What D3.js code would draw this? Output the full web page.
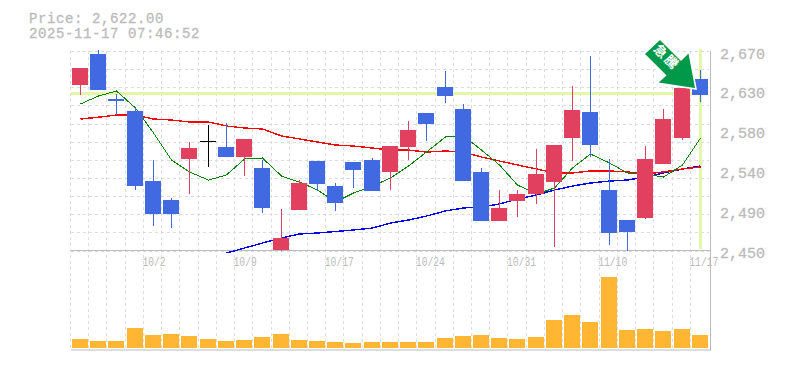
<!DOCTYPE html>
<html>
<head>
<meta charset="utf-8">
<script src="https://cdn.jsdelivr.net/npm/d3@7"></script>
<style>
    html, body { margin: 0; padding: 0; background: #fff; }
    text { font-family: "Liberation Mono", monospace; fill: #bbb; stroke: #bbb; stroke-width: 0.3px; }
    .grid line { stroke: #ddd; stroke-dasharray: 3 3; shape-rendering: crispEdges; }
    .mark { shape-rendering: crispEdges; }
    .y-axis path, .y-axis line { display: none; }
</style>
</head>
<body>
<div id="chart"></div>
<script>
// candle values
const dates = ["9/25","9/26","9/29","9/30","10/2","10/3","10/6","10/7","10/8","10/9","10/10","10/14","10/15","10/16","10/17","10/20","10/21","10/22","10/23","10/24","10/27","10/28","10/29","10/30","10/31","11/4","11/5","11/6","11/7","11/10","11/11","11/12","11/13","11/14","11/17"];
const opens  = [2632,2667,2617,2604,2527,2506,2551,2571,2564,2553,2541,2451,2495,2549,2521,2548,2550,2537,2564,2602,2630,2606,2537,2483,2505,2512,2526,2574,2603,2517,2484,2486,2545,2574,2639];
const highs  = [2651,2671,2623,2607,2550,2508,2570,2588,2591,2573,2550,2496,2528,2549,2524,2548,2552,2565,2593,2602,2648,2612,2541,2517,2517,2562,2566,2631,2664,2551,2484,2565,2606,2629,2649];
const lows   = [2622,2627,2599,2517,2477,2475,2512,2542,2553,2532,2491,2450,2495,2516,2494,2519,2516,2517,2550,2571,2613,2527,2482,2483,2487,2501,2454,2549,2553,2456,2449,2485,2545,2572,2614];
const closes = [2651,2627,2615,2521,2490,2490,2563,2571,2553,2573,2497,2464,2524,2523,2502,2539,2516,2565,2583,2590,2620,2527,2483,2497,2512,2534,2566,2605,2566,2469,2470,2551,2595,2629,2622];
const volumes = [90,70,70,200,130,140,120,90,70,80,110,140,80,70,60,50,60,60,60,60,100,120,130,100,90,110,280,330,260,710,180,190,170,190,130];

// moving averages
const maShort = [2611.6,2620.4,2625.9,2607.1,2579.6,2549.8,2536.6,2527.7,2533.3,2550.9,2552,2532.1,2525.5,2516.7,2503.5,2513.4,2521.1,2529.9,2543.2,2558.6,2575.2,2576.3,2560.8,2544.3,2522.2,2512.3,2518.9,2541,2556.4,2546.5,2535.5,2534.4,2531,2544.3,2574.1];
const maMid = [2595,2597,2599.4,2599.4,2595,2593.9,2591.7,2591.7,2587.3,2585.1,2584,2576.3,2573,2569.6,2566.3,2565.2,2563,2560.8,2560.8,2558.6,2559.7,2558.6,2553.1,2548.7,2544.3,2539.9,2535.5,2535.5,2537.7,2537.7,2536.6,2534.4,2536.6,2539.9,2542.1];
const maLong = [null,null,null,null,null,null,null,null,2447.2,2452.7,2458.3,2463.8,2468.2,2469.3,2470.9,2472.6,2474.8,2480.3,2483.6,2488,2493.6,2496.9,2498,2501.3,2506.8,2511.2,2516.7,2521.1,2524.4,2526.6,2527.7,2531,2535.5,2539.9,2543.2];

// axis labels
const yTicks = [2450,2494,2538,2582,2626,2670];
const xTicks = ["10/2","10/9","10/17","10/24","10/31","11/10","11/17"];
const lastPrice = 2622;
const stamp = "2025-11-17 07:46:52";

const upColor = "#e2405f", downColor = "#4169e1", dojiColor = "#000";

const svg = d3.select("#chart")
    .append("svg")
    .attr("width", 785)
    .attr("height", 370)
    .style("display", "block");

// scales
const x = d3.scaleBand().domain(dates).range([71, 709]);
const y = d3.scaleLinear().domain([2450, 2670]).range([250.5, 51]);
const yVol = d3.scaleLinear().domain([0, 880]).range([348, 260]);

const barLeft = d => Math.round(x(d) + 1);
const mid = d => barLeft(d) + 8.5;
const py = v => Math.round(y(v));

// grid
const grid = svg.append("g").attr("class", "grid");
grid.selectAll("line.h")
    .data(d3.range(2450, 2671, 20))
    .enter().append("line")
    .attr("class", "h")
    .attr("x1", 71).attr("x2", 709)
    .attr("y1", d => py(d) + 0.5).attr("y2", d => py(d) + 0.5);
grid.selectAll("line.v")
    .data(dates)
    .enter().append("line")
    .attr("class", "v")
    .attr("x1", d => Math.round(x(d)) - 0.5).attr("x2", d => Math.round(x(d)) - 0.5)
    .attr("y1", 51).attr("y2", 349);

// current price bands
svg.append("line")
    .attr("class", "mark")
    .attr("x1", 71).attr("x2", mid(dates[34]))
    .attr("y1", py(lastPrice) - 1.5).attr("y2", py(lastPrice) - 1.5)
    .attr("stroke", "#e4f6a8").attr("stroke-width", 3);
svg.append("line")
    .attr("class", "mark")
    .attr("x1", mid(dates[34])).attr("x2", mid(dates[34]))
    .attr("y1", 49).attr("y2", 249)
    .attr("stroke", "#e4f6a8").attr("stroke-width", 3);

// axis frame
svg.append("line").attr("x1", 71).attr("x2", 710).attr("y1", 250.5).attr("y2", 250.5).attr("stroke", "#bbb");
svg.append("line").attr("x1", 71).attr("x2", 711).attr("y1", 350).attr("y2", 350).attr("stroke", "#bbb");
svg.append("line").attr("x1", 710.5).attr("x2", 710.5).attr("y1", 51).attr("y2", 350).attr("stroke", "#bbb");

// volume
svg.selectAll("rect.vol")
    .data(dates)
    .enter().append("rect")
    .attr("class", "vol mark")
    .attr("x", d => barLeft(d))
    .attr("width", 16)
    .attr("y", (d, i) => yVol(volumes[i]))
    .attr("height", (d, i) => 348 - yVol(volumes[i]))
    .attr("fill", "#ffb733");

// moving averages
const line = d3.line()
    .defined(d => d.v !== null)
    .x(d => mid(d.date))
    .y(d => y(d.v));
[[maLong, "#0000ff", 1.4], [maMid, "#ff0000", 1.4], [maShort, "#008000", 1]].forEach(function (s) {
    svg.append("path")
        .datum(s[0].map((v, i) => ({date: dates[i], v: v})))
        .attr("class", "mark")
        .attr("d", line)
        .attr("fill", "none")
        .attr("stroke", s[1])
        .attr("stroke-width", s[2]);
});

// candles
function candleColor(i) {
    if (closes[i] > opens[i]) return upColor;
    if (closes[i] < opens[i]) return downColor;
    return dojiColor;
}
const candles = svg.selectAll("g.candle")
    .data(dates)
    .enter().append("g")
    .attr("class", "candle mark");
candles.append("line")
    .attr("x1", d => mid(d)).attr("x2", d => mid(d))
    .attr("y1", (d, i) => py(highs[i])).attr("y2", (d, i) => py(lows[i]))
    .attr("stroke", (d, i) => candleColor(i));
candles.append("rect")
    .attr("x", d => barLeft(d))
    .attr("width", 16)
    .attr("y", (d, i) => py(Math.max(opens[i], closes[i])))
    .attr("height", (d, i) => Math.max(py(Math.min(opens[i], closes[i])) - py(Math.max(opens[i], closes[i])), 1))
    .attr("fill", (d, i) => candleColor(i));

// arrow pointing at the last candle
const tipX = mid(dates[34]) - 4.5, tipY = py(closes[34]) - 6;
const arrow = svg.append("g").attr("transform", "translate(" + tipX + "," + tipY + ")");
arrow.append("path")
    .attr("d", "M0,0 L-7,-37 L-15,-29 L-36,-50 L-52,-35 L-30.5,-13.5 L-39,-6 Z")
    .attr("fill", "#00994a")
    .attr("stroke", "#fff")
    .attr("stroke-width", 1.5);
arrow.append("text")
    .attr("transform", "translate(-29,-32) rotate(45)")
    .attr("text-anchor", "middle")
    .attr("y", 5)
    .style("font-family", "'Noto Sans CJK JP'")
    .style("font-size", "13px")
    .style("font-weight", "bold")
    .style("letter-spacing", "2px")
    .style("fill", "#fff")
    .style("stroke", "none")
    .text("急騰");

// axis labels
const yAxis = d3.axisRight(y)
    .tickValues(yTicks)
    .tickSize(0)
    .tickPadding(0)
    .tickFormat(d => d3.format(",")(Math.round(d / 10) * 10));
svg.append("g")
    .attr("class", "y-axis")
    .attr("transform", "translate(720,0)")
    .call(yAxis)
    .selectAll("text")
    .attr("dy", 7)
    .style("font-family", "'Liberation Mono', monospace")
    .style("font-size", "15px")
    .style("fill", "#bbb");

// date labels are narrow and tall in the original
svg.selectAll("text.x-label")
    .data(xTicks)
    .enter().append("text")
    .attr("class", "x-label")
    .attr("transform", d => "translate(" + (x(d) - 1.5) + ",266) scale(0.97,1.3)")
    .style("font-size", "10px")
    .style("stroke", "none")
    .text(d => d);

// title
svg.append("text").attr("x", 29).attr("y", 23).style("font-size", "14px").style("letter-spacing", "0.6px")
    .text("Price: " + d3.format(",.2f")(lastPrice));
svg.append("text").attr("x", 29).attr("y", 38).style("font-size", "14px").style("letter-spacing", "0.6px")
    .text(stamp);
</script>
</body>
</html>
